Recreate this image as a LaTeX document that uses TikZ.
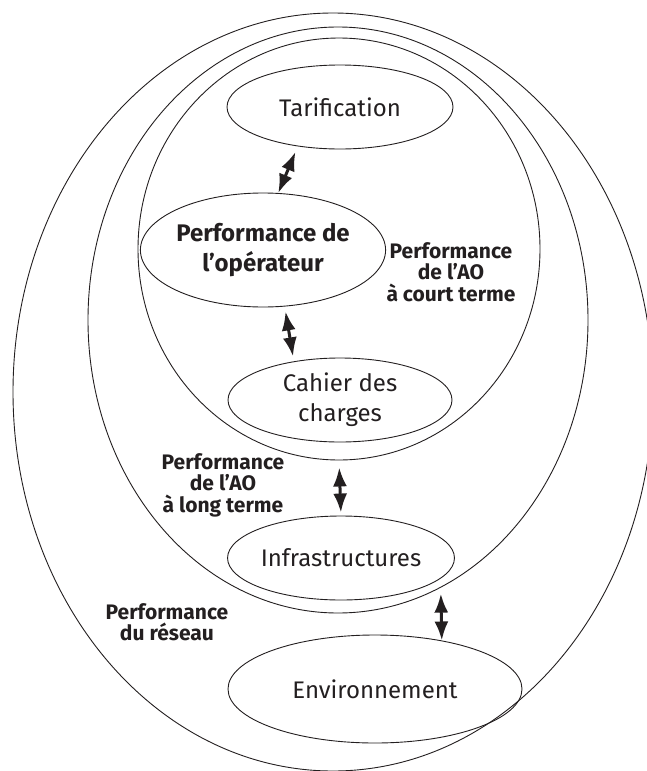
\documentclass[tikz,border=0pt]{standalone}
\usepackage{fontspec}
\setmainfont{Fira Sans}
\usetikzlibrary{shapes.geometric,arrows.meta}

\definecolor{ink}{RGB}{35,31,32}

\tikzset{
  zone/.style = {draw, ellipse, inner sep = 0pt},
  bulle/.style = {draw, ellipse, inner sep = 0pt, align = center, font = \fontsize{24}{30}\selectfont},
  etiq/.style = {align = center, font = \bfseries\fontsize{21}{21.5}\selectfont},
  dbl/.style = {{Latex[length=19pt,width=14pt]}-{Latex[length=19pt,width=14pt]}, line width = 3pt}
}

\begin{document}
\begin{tikzpicture}[x=1pt,y=-1pt,line width=0.9pt,color=ink]

\useasboundingbox (0,0) rectangle (646,771) ;

\node[zone, minimum width = 640pt, minimum height = 758pt] (el_reseau) at (333,392) {} ;
\node[zone, minimum width = 500pt, minimum height = 586pt] (el_long) at (338,320) {} ;
\node[zone, minimum width = 402pt, minimum height = 422pt] (el_court) at (339,249) {} ;

\node[bulle, minimum width = 226pt, minimum height = 84pt] (el_tarif) at (340,107) {Tarification} ;
\node[bulle, minimum width = 224pt, minimum height = 114pt, font = \bfseries\fontsize{24}{30}\selectfont] (el_perf) at (263,250) {Performance de\\l’opérateur} ;
\node[bulle, minimum width = 224pt, minimum height = 84pt] (el_cahier) at (340,400) {Cahier des\\charges} ;
\node[bulle, minimum width = 225pt, minimum height = 84pt] (el_infra) at (341,558) {Infrastructures} ;
\node[bulle, minimum width = 294pt, minimum height = 108pt] (el_env) at (375,689) {Environnement} ;

\node[etiq] (lb_court) at (451,272) {Performance\\de l’AO\\à court terme} ;
\node[etiq] (lb_long) at (223,485) {Performance\\de l’AO\\à long terme} ;
\node[etiq] (lb_reseau) at (167,622) {Performance\\du réseau} ;

\draw[dbl, shorten <= 6pt] (el_tarif.223) -- (el_perf.75) ;
\draw[dbl, shorten <= 5pt, shorten >= 5pt] (el_perf.291) -- (el_cahier.140) ;
\draw[dbl, shorten <= 7pt, shorten >= 3pt] (el_court.south) -- (el_infra.north) ;
\draw[dbl, shorten <= 6pt] (el_long.291) -- (el_env.36) ;

\end{tikzpicture}
\end{document}
